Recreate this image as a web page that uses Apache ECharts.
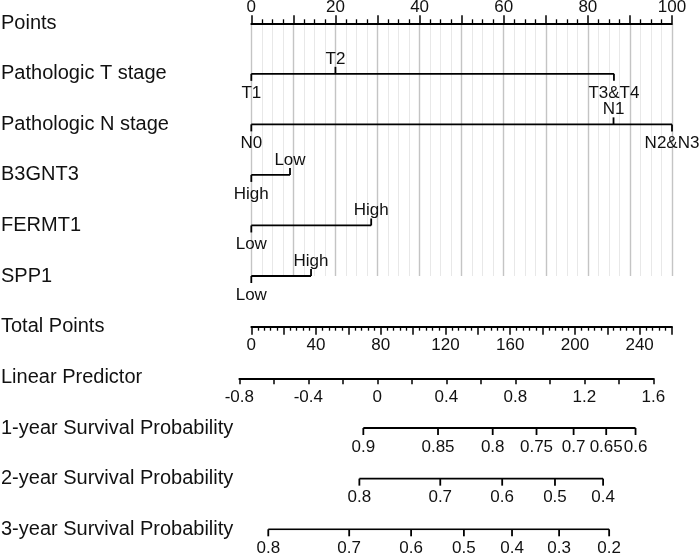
<!DOCTYPE html>
<html>
<head>
<meta charset="utf-8">
<script src="https://cdn.jsdelivr.net/npm/echarts@6/dist/echarts.min.js"></script>
<style>
html, body { margin: 0; padding: 0; background: #fff; }
#chart { width: 700px; height: 553px; }
</style>
</head>
<body>
<div id="chart"></div>
<script>
// row names
var topRows = ['Points', 'Pathologic T stage', 'Pathologic N stage', 'B3GNT3', 'FERMT1', 'SPP1'];
var bottomRows = ['Total Points', 'Linear Predictor', '1-year Survival Probability',
    '2-year Survival Probability', '3-year Survival Probability'];

// points per level
var tStageLevels = ['T1', 'T2', 'T3&T4'];
var tStagePoints = [0, 20, 86.2];
var nStageLevels = ['N0', 'N1', 'N2&N3'];
var nStagePoints = [0, 86.1, 100];
var b3gnt3Levels = ['High', 'Low'];
var b3gnt3Points = [0, 9.2];
var fermt1Levels = ['Low', 'High'];
var fermt1Points = [0, 28.5];
var spp1Levels = ['Low', 'High'];
var spp1Points = [0, 14.2];

// survival scales, placed on the linear predictor
var surv1Labels = ['0.9', '0.85', '0.8', '0.75', '0.7', '0.65', '0.6'];
var surv1Lp = [-0.081, 0.352, 0.669, 0.923, 1.138, 1.327, 1.497];
var surv2Labels = ['0.8', '0.7', '0.6', '0.5', '0.4'];
var surv2Lp = [-0.104, 0.365, 0.724, 1.030, 1.309];
var surv3Labels = ['0.8', '0.7', '0.6', '0.5', '0.4', '0.3', '0.2'];
var surv3Lp = [-0.632, -0.163, 0.196, 0.502, 0.781, 1.054, 1.344];

var pointsRange = [0, 100];
var totalRange = [0, 260];
var lpRange = [-0.8, 1.6];

var font = 'Liberation Sans, Arial, sans-serif';
var ink = '#111';
var tickFont = 17;

function tickSeries(items, xIdx, yIdx, up) {
    return {
        type: 'scatter',
        xAxisIndex: xIdx,
        yAxisIndex: yIdx,
        silent: true,
        symbol: 'rect',
        symbolSize: [1.8, 7],
        symbolOffset: [0, up ? -3.5 : 3.5],
        itemStyle: { color: '#000', opacity: 1 },
        label: {
            show: true,
            formatter: '{b}',
            position: up ? 'top' : 'bottom',
            distance: 1,
            offset: [0, up ? 1.5 : 2.5],
            color: ink,
            opacity: 1,
            fontSize: tickFont,
            fontFamily: font
        },
        data: items
    };
}

// one row: line from smallest to largest value, ticks with level names
function rowSeries(row, levels, values, xIdx, yIdx, alternate) {
    var lo = Math.min.apply(null, values),
        hi = Math.max.apply(null, values),
        up = [], down = [];
    values.forEach(function (v, i) {
        var p = { name: levels[i], value: [v, row] };
        if (alternate && i % 2 === 1) up.push(p); else down.push(p);
    });
    var out = [{
        type: 'line',
        xAxisIndex: xIdx,
        yAxisIndex: yIdx,
        silent: true,
        symbol: 'none',
        lineStyle: { color: '#000', width: 1.8 },
        data: [[lo, row], [hi, row]]
    }, tickSeries(down, xIdx, yIdx, false)];
    if (up.length) out.push(tickSeries(up, xIdx, yIdx, true));
    return out;
}

var series = [].concat(
    rowSeries(topRows[1], tStageLevels, tStagePoints, 0, 0, true),
    rowSeries(topRows[2], nStageLevels, nStagePoints, 0, 0, true),
    rowSeries(topRows[3], b3gnt3Levels, b3gnt3Points, 0, 0, true),
    rowSeries(topRows[4], fermt1Levels, fermt1Points, 0, 0, true),
    rowSeries(topRows[5], spp1Levels, spp1Points, 0, 0, true),
    rowSeries(bottomRows[2], surv1Labels, surv1Lp, 1, 1, false),
    rowSeries(bottomRows[3], surv2Labels, surv2Lp, 1, 1, false),
    rowSeries(bottomRows[4], surv3Labels, surv3Lp, 1, 1, false)
);

var axisLine = { show: true, onZero: false, lineStyle: { color: '#000', width: 1.8 } };
var labelStyle = { color: ink, fontSize: tickFont, fontFamily: font };

var myChart = echarts.init(document.getElementById('chart'));
var option = {
    animation: false,
    backgroundColor: '#fff',
    grid: [
        { left: 251.3, right: 28, top: 23.3, height: 252.7, outerBoundsMode: 'none' },
        { left: 239.3, right: 46.7, top: 326.7, height: 202.6, outerBoundsMode: 'none' },
        { left: 251.3, right: 28, top: 326.7, height: 10, outerBoundsMode: 'none' },
        { left: 239.3, right: 46.7, top: 378.3, height: 10, outerBoundsMode: 'none' }
    ],
    xAxis: [
        {
            gridIndex: 0, type: 'value', position: 'top',
            min: pointsRange[0], max: pointsRange[1], interval: 10,
            axisLine: axisLine,
            axisTick: { show: true, length: 8, lineStyle: { color: '#000', width: 1.5 } },
            minorTick: { show: true, splitNumber: 4, length: 4, lineStyle: { color: '#000', width: 1.3 } },
            axisLabel: Object.assign({ margin: 7, formatter: function (v) { return v % 20 === 0 ? String(v) : ''; } }, labelStyle),
            splitLine: { show: true, lineStyle: { color: '#c4c4c4', width: 1.4 } },
            minorSplitLine: { show: true, lineStyle: { color: '#e8e8e8', width: 1 } }
        },
        {
            gridIndex: 1, type: 'value', show: false,
            min: lpRange[0], max: lpRange[1]
        },
        {
            gridIndex: 2, type: 'value', position: 'top',
            min: totalRange[0], max: totalRange[1], interval: 20,
            axisLine: axisLine,
            axisTick: { show: true, inside: true, length: 8, lineStyle: { color: '#000', width: 1.5 } },
            minorTick: { show: true, splitNumber: 5, length: 4, lineStyle: { color: '#000', width: 1.3 } },
            axisLabel: Object.assign({ inside: true, margin: 10.5, formatter: function (v) { return v % 40 === 0 ? String(v) : ''; } }, labelStyle),
            splitLine: { show: false }
        },
        {
            gridIndex: 3, type: 'value', position: 'top',
            min: lpRange[0], max: lpRange[1], interval: 0.2,
            axisLine: axisLine,
            axisTick: { show: true, inside: true, length: 6, lineStyle: { color: '#000', width: 1.5 } },
            axisLabel: Object.assign({
                inside: true, margin: 11,
                formatter: function (v) {
                    var k = Math.round(v * 10);
                    return k % 4 === 0 ? String(k / 10) : '';
                }
            }, labelStyle),
            splitLine: { show: false }
        }
    ],
    yAxis: [
        {
            gridIndex: 0, type: 'category', data: topRows, inverse: true, boundaryGap: false,
            axisLine: { show: false }, axisTick: { show: false }, splitLine: { show: false },
            axisLabel: { align: 'left', margin: 250.3, color: ink, fontSize: 20, fontFamily: font }
        },
        {
            gridIndex: 1, type: 'category', data: bottomRows, inverse: true, boundaryGap: false,
            axisLine: { show: false }, axisTick: { show: false }, splitLine: { show: false },
            axisLabel: { align: 'left', margin: 238.3, color: ink, fontSize: 20, fontFamily: font }
        },
        { gridIndex: 2, type: 'value', show: false },
        { gridIndex: 3, type: 'value', show: false }
    ],
    series: series
};
myChart.setOption(option);
</script>
</body>
</html>
